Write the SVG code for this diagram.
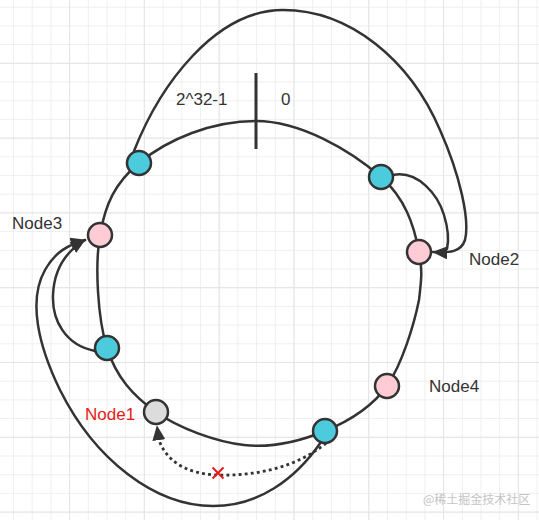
<svg xmlns="http://www.w3.org/2000/svg" width="539" height="520" viewBox="0 0 539 520">
<defs>
<pattern id="gridMinor" patternUnits="userSpaceOnUse" x="13" y="6.7" width="18.7" height="18.7">
<path d="M0 0.5 H18.7 M0.5 0 V18.7" fill="none" stroke="#efefef" stroke-width="1"/>
</pattern>
<pattern id="gridMajor" patternUnits="userSpaceOnUse" x="69" y="62.8" width="74.8" height="74.8">
<path d="M0 0.5 H74.8 M0.5 0 V74.8" fill="none" stroke="#e4e4e4" stroke-width="1"/>
</pattern>
<marker id="arrow" viewBox="0 0 10 10" refX="9.5" refY="5" markerWidth="15" markerHeight="13" markerUnits="userSpaceOnUse" orient="auto" preserveAspectRatio="none">
<path d="M0,0 L10,5 L0,10 z" fill="#333" stroke="none"/>
</marker>
</defs>
<style>
.line{fill:none;stroke:#333;stroke-width:2.5;stroke-linecap:round}
.dot{fill:none;stroke:#333;stroke-width:2.8;stroke-dasharray:0.1 6;stroke-linecap:square}
.node{stroke:#333;stroke-width:2.5}
.cyan{fill:#4ccbdc}
.pink{fill:#ffccd5}
.grey{fill:#dcdcdc}
.lbl{font-family:"Liberation Sans","Noto Sans",Arial,sans-serif;font-size:17px;fill:#333}
.red{fill:#e61a1a}
.wm{font-family:"Noto Sans CJK SC","Noto Sans",sans-serif;font-size:12px;fill:#c4c4c4}
</style>
<rect width="539" height="520" fill="#fff"/>
<rect width="539" height="520" fill="url(#gridMinor)"/>
<rect width="539" height="520" fill="url(#gridMajor)"/>

<g id="ring">
<path class="line" d="M256,121 C300,121 350,150 381,177 C405,198 414,225 419,252 C423,270 421,282 419,300 C414,325 402,364 387,386 C371.5,407.8 348.8,421.2 325,431 C301.2,440.8 272.2,448.2 244,445 C215.8,441.8 178.8,428.2 156,412 C133.2,395.8 116.3,377.5 107,348 C97.7,318.5 94.7,265.8 100,235 C105.3,204.2 115,183 139,163 C168,139 212,121 256,121 Z"/>
<line x1="256" y1="73" x2="256" y2="149" stroke="#333" stroke-width="3"/>
</g>

<g id="connectors">
<path class="line" d="M134,151 C160,85 215,10 283,10 C350,10 410,60 440,130 C460,175 470,220 465,240 C461,252 450,253 433,252" marker-end="url(#arrow)"/>
<path class="line" d="M393,175 C418,170 438,195 444,215 C448,228 449,240 447,249"/>
<path class="line" d="M95,351 C65,345 52,320 53,295 C54,270 65,252 85,240" marker-end="url(#arrow)"/>
<path class="line" d="M321,442 C295,480 258,506 213,506 C155,506 95,460 60,390 C38,345 28,300 45,270 C55,252 68,245 85,240" marker-end="url(#arrow)"/>
<path class="dot" d="M325,444 C295,468 255,476 218,475 C185,474 166,460 159,440"/>
<path d="M159,441 L157,426" fill="none" stroke="none" marker-end="url(#arrow)"/>
<path d="M212.5,467.5 L223.5,478.5 M223.5,467.5 L212.5,478.5" fill="none" stroke="#e61a1a" stroke-width="2"/>
</g>

<g id="cyanTL"><circle class="node cyan" cx="139" cy="163" r="12"/></g>
<g id="cyanTR"><circle class="node cyan" cx="381" cy="177" r="12"/></g>
<g id="node3"><circle class="node pink" cx="100" cy="235" r="12"/><text class="lbl" x="12" y="229">Node3</text></g>
<g id="node2"><circle class="node pink" cx="419" cy="252" r="12"/><text class="lbl" x="469" y="265">Node2</text></g>
<g id="cyanL"><circle class="node cyan" cx="107" cy="348" r="12"/></g>
<g id="node4"><circle class="node pink" cx="387" cy="386" r="12"/><text class="lbl" x="429" y="392">Node4</text></g>
<g id="node1"><circle class="node grey" cx="156" cy="412" r="12"/><text class="lbl red" x="85" y="420">Node1</text></g>
<g id="cyanB"><circle class="node cyan" cx="325" cy="431" r="12"/></g>

<g id="labels">
<text class="lbl" x="176" y="105">2^32-1</text>
<text class="lbl" x="281" y="105">0</text>
<text class="wm" x="423" y="504">@稀土掘金技术社区</text>
</g>
</svg>
